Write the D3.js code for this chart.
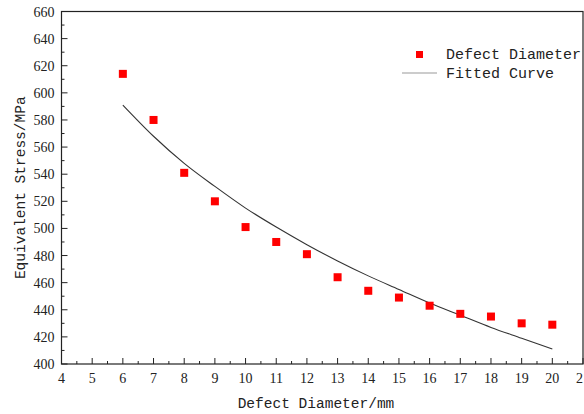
<!DOCTYPE html>
<html lang="en">
<head>
  <meta charset="UTF-8" />
  <title>Equivalent Stress vs Defect Diameter</title>
  <script src="https://d3js.org/d3.v7.min.js"></script>
  <style>
    body{margin:0;background:#fff}
    svg{display:block}
    .lbl{font-family:"Liberation Mono",monospace;fill:#222}
    .tick{font-family:"Liberation Serif",serif;fill:#222}
  </style>
</head>
<body>
  <div id="chart"></div>
  <script>
    // measured points
    const diam = [6, 7, 8, 9, 10, 11, 12, 13, 14, 15, 16, 17, 18, 19, 20];
    const stress = [614, 580, 541, 520, 501, 490, 481, 464, 454, 449, 443, 437, 435, 430, 429];
    // fitted curve
    const fitX = [6, 7, 8, 9, 10, 11, 12, 13, 14, 15, 16, 17, 18, 19, 20];
    const fitY = [591, 568, 548, 531, 515, 501, 488, 476, 465, 455, 445, 436, 427, 419, 411];
    const xTicks = [4, 5, 6, 7, 8, 9, 10, 11, 12, 13, 14, 15, 16, 17, 18, 19, 20, 21];
    const yTicks = [400, 420, 440, 460, 480, 500, 520, 540, 560, 580, 600, 620, 640, 660];

    const W = 584, H = 414;
    const svg = d3.select("#chart").append("svg").attr("width", W).attr("height", H);

    const x = d3.scaleLinear().domain([4, 21]).range([61.5, 583]);
    const y = d3.scaleLinear().domain([400, 660]).range([364, 11.5]);

    // frame
    svg.append("rect").attr("x", x(4)).attr("y", y(660))
      .attr("width", x(21) - x(4)).attr("height", y(400) - y(660))
      .attr("fill", "none").attr("stroke", "#222").attr("stroke-width", 1.2);

    // x ticks (inward), minor at half steps
    const xMinor = d3.range(4.5, 21, 1);
    svg.append("g").selectAll("line").data(xTicks).enter().append("line")
      .attr("x1", d => x(d)).attr("x2", d => x(d))
      .attr("y1", y(400)).attr("y2", y(400) - 6).attr("stroke", "#222");
    svg.append("g").selectAll("line").data(xMinor).enter().append("line")
      .attr("x1", d => x(d)).attr("x2", d => x(d))
      .attr("y1", y(400)).attr("y2", y(400) - 3).attr("stroke", "#222");
    svg.append("g").selectAll("text").data(xTicks).enter().append("text")
      .attr("class", "tick").attr("x", d => x(d)).attr("y", y(400) + 19)
      .attr("text-anchor", "middle").style("font-size", "14px").text(d => d);

    // y ticks
    const yMinor = d3.range(410, 660, 20);
    svg.append("g").selectAll("line").data(yTicks).enter().append("line")
      .attr("x1", x(4)).attr("x2", x(4) + 6)
      .attr("y1", d => y(d)).attr("y2", d => y(d)).attr("stroke", "#222");
    svg.append("g").selectAll("line").data(yMinor).enter().append("line")
      .attr("x1", x(4)).attr("x2", x(4) + 3)
      .attr("y1", d => y(d)).attr("y2", d => y(d)).attr("stroke", "#222");
    svg.append("g").selectAll("text").data(yTicks).enter().append("text")
      .attr("class", "tick").attr("x", x(4) - 7).attr("y", d => y(d) + 5)
      .attr("text-anchor", "end").style("font-size", "14px").text(d => d);

    // axis titles
    svg.append("text").attr("class", "lbl").attr("x", 316).attr("y", 408)
      .attr("text-anchor", "middle").style("font-size", "14.5px").text("Defect Diameter/mm");
    svg.append("text").attr("class", "lbl")
      .attr("transform", `translate(25,${(y(400) + y(660)) / 2}) rotate(-90)`)
      .attr("text-anchor", "middle").style("font-size", "14.5px").text("Equivalent Stress/MPa");

    // fitted curve
    svg.append("path").datum(fitX.map((d, i) => [d, fitY[i]]))
      .attr("fill", "none").attr("stroke", "#333").attr("stroke-width", 1.1)
      .attr("d", d3.line().x(d => x(d[0])).y(d => y(d[1])).curve(d3.curveMonotoneX));

    // points
    const s = 8;
    svg.append("g").selectAll("rect").data(diam).enter().append("rect")
      .attr("x", d => x(d) - s / 2).attr("y", (d, i) => y(stress[i]) - s / 2)
      .attr("width", s).attr("height", s).attr("fill", "#ff0000");

    // legend
    const lg = svg.append("g");
    lg.append("rect").attr("x", 416).attr("y", 51).attr("width", 7).attr("height", 7).attr("fill", "#ff0000");
    lg.append("text").attr("class", "lbl").attr("x", 446).attr("y", 59)
      .style("font-size", "15px").text("Defect Diameter");
    lg.append("line").attr("x1", 402).attr("x2", 437).attr("y1", 73).attr("y2", 73)
      .attr("stroke", "#999").attr("stroke-width", 1);
    lg.append("text").attr("class", "lbl").attr("x", 446).attr("y", 78)
      .style("font-size", "15px").text("Fitted Curve");
  </script>
</body>
</html>
